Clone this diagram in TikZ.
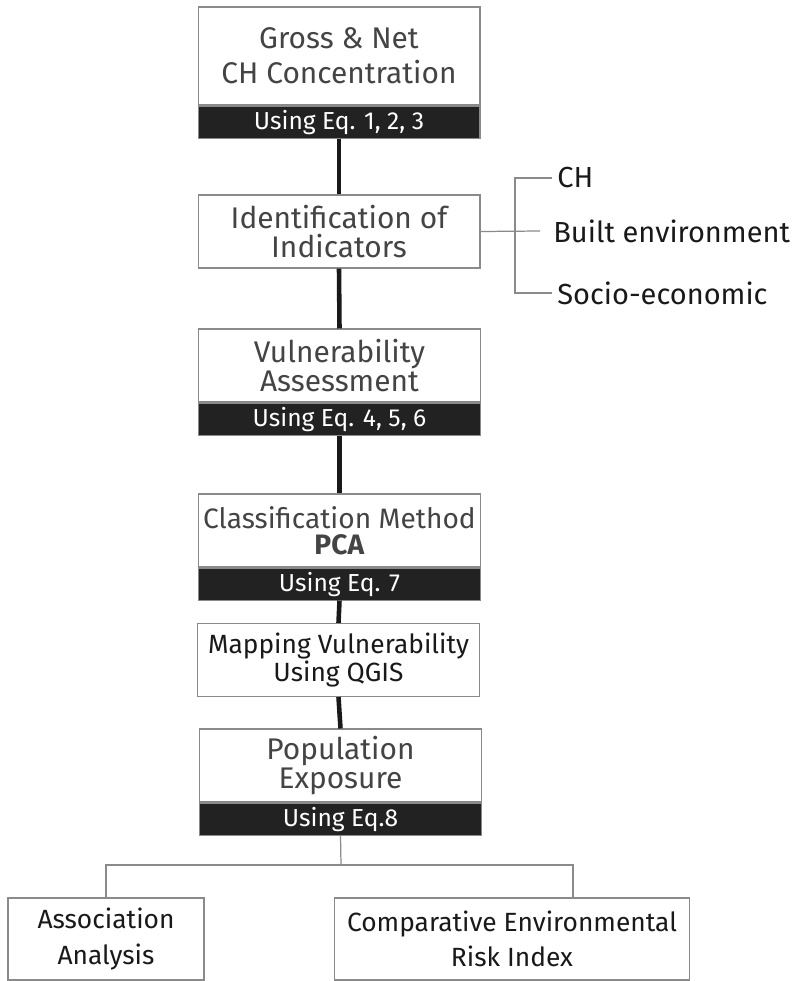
\documentclass[tikz,border=0pt]{standalone}
\usepackage{fontspec}
\setmainfont{Fira Sans}
\usetikzlibrary{positioning}

\definecolor{bardark}{HTML}{222222}
\definecolor{edgegray}{HTML}{8A8A8A}
\definecolor{titlegray}{HTML}{444444}

\tikzset{
	box/.style={draw=edgegray, line width=0.6pt, fill=white, minimum width=5.64cm, minimum height=1.46cm, align=center, text=titlegray, font=\fontsize{17}{16.5}\selectfont, inner sep=0pt},
	bar/.style={draw=edgegray, line width=0.6pt, fill=bardark, minimum width=5.64cm, minimum height=0.64cm, text=white, font=\fontsize{14}{14}\selectfont, inner sep=0pt},
	link/.style={line width=2.6pt, black!90},
	tree/.style={edgegray, line width=0.7pt},
	leaf/.style={anchor=west, inner sep=0pt, text=black!90, font=\fontsize{16.5}{17}\selectfont},
}

\begin{document}
\begin{tikzpicture}[x=0.02cm, y=-0.02cm]
		\useasboundingbox (0,0) rectangle (795,981);

		\node[box, minimum height=1.96cm, font=\fontsize{17}{20}\selectfont] (gross) at (339,56) {Gross \& Net\\CH Concentration};
		\node[bar, below=0pt of gross] (grossbar) {Using Eq. 1, 2, 3};

		\node[box] (ident) at (339,231.5) {Identification of\\Indicators};

		\node[box] (vuln) at (339.5,365.5) {Vulnerability\\Assessment};
		\node[bar, below=0pt of vuln] (vulnbar) {Using Eq. 4, 5, 6};

		\node[box, font=\fontsize{16}{14.8}\selectfont] (pca) at (339.5,530.5) {Classification Method\\\textbf{PCA}};
		\node[bar, below=0pt of pca] (pcabar) {Using Eq. 7};

		\node[box, text=black!90, font=\fontsize{15}{14.8}\selectfont] (qgis) at (338.5,660) {Mapping Vulnerability\\Using QGIS};

		\node[box] (pop) at (340.5,765.5) {Population\\Exposure};
		\node[bar, below=0pt of pop] (popbar) {Using Eq.8};

		\node[box, minimum width=3.92cm, minimum height=1.64cm, text=black!90, font=\fontsize{15}{20}\selectfont] (assoc) at (106,939) {Association\\Analysis};
		\node[box, minimum width=7.12cm, minimum height=1.64cm, text=black!90, font=\fontsize{15}{20}\selectfont] (cer) at (512,939) {Comparative Environmental\\Risk Index};

		\draw[link] (grossbar.south) -- (ident.north);
		\draw[link] (ident.south) -- (vuln.north);
		\draw[link] (vulnbar.south) -- (pca.north);
		\draw[link] (pcabar.south) -- (qgis.north);
		\draw[link] (qgis.south) -- (pop.north);

		% indicators
		\node[leaf] (ch) at (557,178) {CH};
		\node[leaf] (built) at (553,231) {Built environment};
		\node[leaf] (socio) at (557,293) {Socio-economic};

		\coordinate (brace) at (515,231);
		\draw[tree] (ident.east) -- ([xshift=-0.26cm]built.west);
		\draw[tree] ([xshift=-0.1cm]ch.west) -| (brace) |- ([xshift=-0.1cm]socio.west);

		% outputs
		\coordinate (fork) at (341,865);
		\coordinate (cerin) at (573,898);
		\draw[tree] (popbar.south) -- (fork);
		\draw[tree] (assoc.north) |- (fork) -| (cerin);

	\end{tikzpicture}
\end{document}
